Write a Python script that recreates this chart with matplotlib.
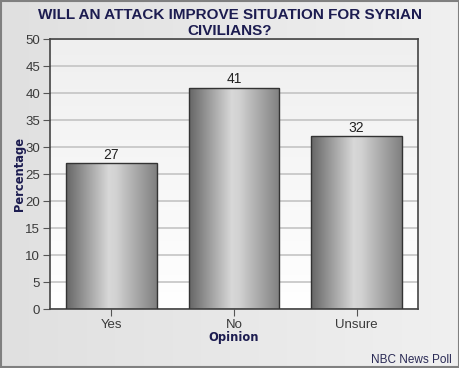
import numpy as np
import matplotlib.pyplot as plt
from matplotlib.colors import LinearSegmentedColormap

plt.rcParams["font.family"] = ["Liberation Sans", "DejaVu Sans"]

# data
categories = ["Yes", "No", "Unsure"]
values = [27, 41, 32]

title_text = "WILL AN ATTACK IMPROVE SITUATION FOR SYRIAN\nCIVILIANS?"
navy = "#1c1c50"

fig = plt.figure(figsize=(4.6, 3.68), dpi=100)
fig.patch.set_facecolor("#e9e9e9")

# figure background gradient + border
bg = fig.add_axes([0, 0, 1, 1], zorder=-10)
grad = np.linspace(0, 1, 256).reshape(1, -1)
bg.imshow(grad, aspect="auto", cmap=LinearSegmentedColormap.from_list("bg", ["#e0e0e0", "#f0f0f0"]),
          extent=[0, 1, 0, 1])
bg.set_xlim(0, 1)
bg.set_ylim(0, 1)
bg.axis("off")
bg.add_patch(plt.Rectangle((0.002, 0.003), 0.996, 0.994, fill=False, ec="#808080", lw=1.5,
                           transform=bg.transAxes))

ax = fig.add_axes([0.1087, 0.1603, 0.8, 0.7337])
x = np.arange(len(categories))
bars = ax.bar(x, values, width=0.74, color="none", edgecolor="#333333", linewidth=1.0, zorder=3)

# plot area gradient
pa = np.linspace(1, 0, 256).reshape(-1, 1)
ax.imshow(pa, aspect="auto", cmap=LinearSegmentedColormap.from_list("pa", ["#ffffff", "#efefef"]),
          extent=[-0.5, len(categories) - 0.5, 0, 50], zorder=0)

# gradient fill of bars
bar_cmap = LinearSegmentedColormap.from_list(
    "bar", [(0, "#666666"), (0.47, "#d8d8d8"), (0.55, "#d2d2d2"), (1, "#808080")])
g = np.linspace(0, 1, 256).reshape(1, -1)
for b in bars:
    x0, w, h = b.get_x(), b.get_width(), b.get_height()
    im = ax.imshow(g, aspect="auto", cmap=bar_cmap, extent=[x0, x0 + w, 0, h], zorder=2)
    im.set_clip_path(b)
    ax.text(x0 + w / 2, h + 0.25, str(h), ha="center", va="bottom", fontsize=10, color="#222222")

ax.set_xlim(-0.5, len(categories) - 0.5)
ax.set_ylim(0, 50)
ax.set_yticks(np.arange(0, 51, 5))
ax.set_xticks(x)
ax.set_xticklabels(categories)
ax.yaxis.grid(True, color="#c4c4c4", lw=1.2, zorder=1)
ax.set_axisbelow(True)
ax.tick_params(axis="both", labelsize=9.5, colors="#555555", labelcolor="#3a3a3a", length=5, pad=2)
for s in ax.spines.values():
    s.set_color("#444444")
    s.set_linewidth(1.2)

ax.set_ylabel("Percentage", fontsize=8.3, fontweight="bold", color=navy, family="DejaVu Sans")
ax.yaxis.set_label_coords(-0.066, 0.5)
ax.set_xlabel("Opinion", fontsize=8.3, fontweight="bold", color=navy, family="DejaVu Sans")
ax.xaxis.set_label_coords(0.5, -0.082)

fig.text(0.5, 0.978, title_text, ha="center", va="top", fontsize=11, fontweight="bold",
         color=navy, linespacing=1.15)
fig.text(0.983, 0.006, "NBC News Poll", ha="right", va="bottom", fontsize=8.5, color="#2a2a55")

fig.savefig("out.png", dpi=100, facecolor=fig.get_facecolor())
